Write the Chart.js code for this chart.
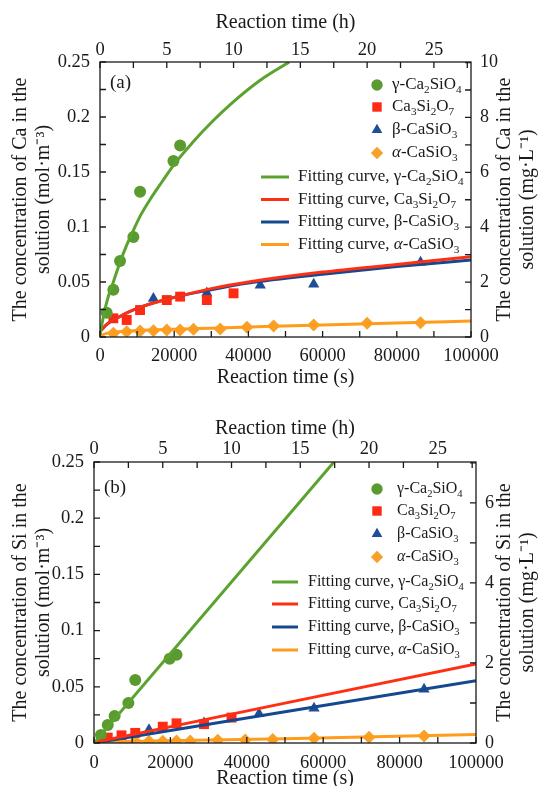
<!DOCTYPE html>
<html><head><meta charset="utf-8">
<script src="https://cdn.jsdelivr.net/npm/chart.js@4/dist/chart.umd.min.js"></script>
<style>
html,body{margin:0;padding:0;background:#fff;}
canvas{position:absolute;left:0;}
#ca{top:0;}
#cb{top:393px;}
</style></head><body>
<canvas id="ca" width="541" height="393"></canvas>
<canvas id="cb" width="541" height="393"></canvas>
<script>
// ---------------- DATA ----------------
const seriesNames = ['γ-Ca2SiO4', 'Ca3Si2O7', 'β-CaSiO3', 'α-CaSiO3'];
const fitPrefix = 'Fitting curve, ';

// sampling times (s)
const tGamma = [1800, 3600, 5400, 9000, 10800, 19800, 21600];
const tC3S2  = [3600, 7200, 10800, 18000, 21600, 28800, 36000];
const tBeta  = [14400, 28800, 43200, 57600, 86400];
const tAlpha = [3600, 7200, 10800, 14400, 18000, 21600, 25200, 32400, 39600, 46800, 57600, 72000, 86400];

// (a) Ca concentration, mol·m-3
const caGamma = [0.022, 0.043, 0.069, 0.091, 0.132, 0.160, 0.174];
const caC3S2  = [0.017, 0.0155, 0.0245, 0.0336, 0.0367, 0.0336, 0.0397];
const caBeta  = [0.035, 0.040, 0.047, 0.048, 0.068];
const caAlpha = [0.0033, 0.0048, 0.0055, 0.0057, 0.0064, 0.0064, 0.0070, 0.0073, 0.0088, 0.0100, 0.0109, 0.0124, 0.0130];

// (a) fitting curves
const tFitCaGamma = [0, 1000, 2000, 3600, 5400, 7000, 9000, 11000, 13500, 16500, 20000, 25000, 30000, 36000, 43000, 51000];
const caFitGamma  = [0.002, 0.020, 0.034, 0.050, 0.068, 0.082, 0.097, 0.111, 0.125, 0.140, 0.157, 0.177, 0.195, 0.214, 0.233, 0.25];
const tFitCa      = [0, 2000, 5000, 10000, 20000, 30000, 40000, 60000, 80000, 100000];
const caFitC3S2   = [0.005, 0.012, 0.018, 0.026, 0.036, 0.044, 0.050, 0.059, 0.066, 0.073];
const caFitBeta   = [0.005, 0.012, 0.018, 0.026, 0.036, 0.043, 0.049, 0.057, 0.064, 0.070];
const caFitAlpha  = [0.001, 0.0035, 0.0048, 0.0058, 0.0070, 0.0080, 0.0090, 0.0110, 0.0128, 0.0145];

// (b) Si concentration, mol·m-3
const siGamma = [0.0071, 0.016, 0.024, 0.0356, 0.056, 0.0750, 0.0785];
const siC3S2  = [0.0048, 0.0068, 0.0090, 0.0145, 0.0175, 0.0168, 0.0226];
const siBeta  = [0.0118, 0.0178, 0.0260, 0.0310, 0.0478];
const siAlpha = [0.0012, 0.0012, 0.0013, 0.0016, 0.0016, 0.0017, 0.0018, 0.0025, 0.0027, 0.0032, 0.0042, 0.0051, 0.0062];

// (b) fitting lines
const tFitSiGamma = [0, 62800];
const siFitGamma  = [0, 0.25];
const tFitSi      = [0, 50000, 100000];
const siFitC3S2   = [0.0005, 0.0355, 0.0703];
const siFitBeta   = [0.0, 0.0278, 0.0555];
const siFitAlpha  = [0.0010, 0.0038, 0.0075];

// axes
const tMaxS = 100000;
const secLabels  = [0, 20000, 40000, 60000, 80000, 100000];
const hourLabels = [0, 5, 10, 15, 20, 25];
const molLabels  = [0, 0.05, 0.1, 0.15, 0.2, 0.25];
const mgLabelsCa = [0, 2, 4, 6, 8, 10];
const mgLabelsSi = [0, 2, 4, 6];
const molarMassCa = 40.08, molarMassSi = 28.0855;

// ---------------- STYLE ----------------
const FONT = "'Liberation Serif','Times New Roman',serif";
const INK = '#1a1a1a';
const colors = ['#5ba22e', '#ff2f14', '#14498f', '#ff9c1c'];
const markerColors = ['#5a9b30', '#ff2a14', '#1f4e96', '#f7a12a'];
const styles = ['circle', 'rect', 'triangle', 'rectRot'];
const radii = [6, 7, 6.5, 6.5];

const pts = (xs, ys) => xs.map((x, i) => ({x, y: ys[i]}));
const has = (arr, v) => arr.some(a => Math.abs(a - v) < 1e-9);

function drawRich(ctx, s, x, y, size) {
  const parts = [];
  for (const ch of s) {
    const sub = /\d/.test(ch), it = ch === 'α';
    const last = parts[parts.length - 1];
    if (last && last.sub === sub && last.it === it) last.t += ch; else parts.push({t: ch, sub, it});
  }
  ctx.textBaseline = 'middle'; ctx.textAlign = 'left'; ctx.fillStyle = INK;
  let cx = x;
  for (const p of parts) {
    const fs = p.sub ? size * 0.66 : size;
    ctx.font = (p.it ? 'italic ' : '') + fs + 'px ' + FONT;
    ctx.fillText(p.t, cx, y + (p.sub ? size * 0.3 : 0));
    cx += ctx.measureText(p.t).width;
  }
}
function drawMarker(ctx, style, x, y, r, color) {
  ctx.fillStyle = color; ctx.beginPath();
  if (style === 'circle') ctx.arc(x, y, r, 0, Math.PI * 2);
  else if (style === 'rect') { const h = r * Math.SQRT1_2; ctx.rect(x - h, y - h, 2 * h, 2 * h); }
  else if (style === 'triangle') { ctx.moveTo(x, y - r); ctx.lineTo(x + r * 0.866, y + r * 0.5); ctx.lineTo(x - r * 0.866, y + r * 0.5); ctx.closePath(); }
  else { ctx.moveTo(x, y - r); ctx.lineTo(x + r, y); ctx.lineTo(x, y + r); ctx.lineTo(x - r, y); ctx.closePath(); }
  ctx.fill();
}

const framePlugin = {
  id: 'frame',
  afterDraw(chart) {
    const {ctx, chartArea: a, scales} = chart;
    const o = chart.options.plugins.frame;
    ctx.save();
    ctx.strokeStyle = INK; ctx.lineWidth = 1.3;
    ctx.strokeRect(a.left, a.top, a.right - a.left, a.bottom - a.top);
    const L = 6;
    ctx.beginPath();
    scales.x.ticks.forEach(t => { const p = scales.x.getPixelForValue(t.value); ctx.moveTo(p, a.bottom); ctx.lineTo(p, a.bottom - L); });
    scales.xh.ticks.forEach(t => { const p = scales.xh.getPixelForValue(t.value); ctx.moveTo(p, a.top); ctx.lineTo(p, a.top + L); });
    scales.y.ticks.forEach(t => { const p = scales.y.getPixelForValue(t.value); ctx.moveTo(a.left, p); ctx.lineTo(a.left + L, p); });
    scales.y2.ticks.forEach(t => { const p = scales.y2.getPixelForValue(t.value); ctx.moveTo(a.right, p); ctx.lineTo(a.right - L, p); });
    ctx.stroke();
    // right axis title (reads bottom to top)
    const cy = (a.top + a.bottom) / 2;
    ctx.fillStyle = INK; ctx.font = '20px ' + FONT; ctx.textAlign = 'center'; ctx.textBaseline = 'middle';
    o.rightTitle.forEach((line, i) => {
      ctx.save(); ctx.translate(o.rightTitleX[i], cy); ctx.rotate(-Math.PI / 2); ctx.fillText(line, 0, 0); ctx.restore();
    });
    // panel tag
    ctx.font = '19px ' + FONT; ctx.textAlign = 'left';
    ctx.fillText(o.tag, a.left + 10, o.tagY);
    // legend
    const lg = o.legend;
    for (let i = 0; i < 4; i++) {
      drawMarker(ctx, styles[i], lg.markerX, lg.rows[i], radii[i] * 0.95, markerColors[i]);
      drawRich(ctx, seriesNames[i], lg.textX, lg.rows[i], lg.size);
    }
    for (let i = 0; i < 4; i++) {
      const y = lg.rows[i + 4];
      ctx.strokeStyle = colors[i]; ctx.lineWidth = 3; ctx.beginPath();
      ctx.moveTo(lg.lineX[0], y); ctx.lineTo(lg.lineX[1], y); ctx.stroke();
      drawRich(ctx, fitPrefix + seriesNames[i], lg.fitTextX, y, lg.size);
    }
    ctx.restore();
  }
};

function makeChart(id, P) {
  const fitSets = P.fits.map((f, i) => ({
    type: 'line', label: fitPrefix + seriesNames[i], data: pts(f[0], f[1]),
    borderColor: colors[i], borderWidth: 3, pointRadius: 0, fill: false,
    tension: P.tension, cubicInterpolationMode: P.tension ? 'monotone' : 'default', order: 1
  }));
  const ptSets = P.points.map((p, i) => ({
    type: 'scatter', label: seriesNames[i], data: pts(p[0], p[1]),
    backgroundColor: markerColors[i], borderColor: markerColors[i], borderWidth: 0,
    pointStyle: styles[i], pointRadius: radii[i], showLine: false, order: 2
  }));
  const tickFont = {family: FONT, size: 18.5, lineHeight: 1.2};
  const titleFont = {family: FONT, size: 20, lineHeight: 1.2};
  return new Chart(document.getElementById(id), {
    type: 'scatter',
    data: {datasets: [...fitSets, ...ptSets]},
    options: {
      responsive: false, animation: false, devicePixelRatio: 1,
      layout: {padding: 0},
      plugins: {legend: {display: false}, tooltip: {enabled: false},
        frame: {rightTitle: P.rightTitle, rightTitleX: P.rightTitleX, tag: P.tag, tagY: P.tagY, legend: P.legend}},
      scales: {
        x: {type: 'linear', position: 'bottom', min: 0, max: tMaxS,
          grid: {display: false, drawTicks: false}, border: {display: false},
          ticks: {stepSize: 10000, autoSkip: false, maxRotation: 0, includeBounds: false, font: tickFont, color: INK, padding: P.bottomTickPad,
            callback: v => has(secLabels, v) ? String(v) : ''},
          title: {display: true, text: 'Reaction time (s)', font: titleFont, color: INK, padding: {top: 0, bottom: P.bottomTitlePad}},
          afterFit: s => { s.height = P.bottomH; }},
        xh: {type: 'linear', position: 'top', min: 0, max: tMaxS / 3600,
          grid: {display: false, drawTicks: false}, border: {display: false},
          ticks: {stepSize: 2.5, autoSkip: false, maxRotation: 0, includeBounds: false, font: tickFont, color: INK, padding: P.topTickPad,
            callback: v => has(hourLabels, v) ? String(v) : ''},
          title: {display: true, text: 'Reaction time (h)', font: titleFont, color: INK, padding: {top: P.topTitlePad, bottom: 0}},
          afterFit: s => { s.height = P.topH; }},
        y: {type: 'linear', position: 'left', min: 0, max: 0.25,
          grid: {display: false, drawTicks: false}, border: {display: false},
          ticks: {stepSize: 0.025, autoSkip: false, includeBounds: false, font: tickFont, color: INK, padding: 10,
            callback: v => has(molLabels, v) ? String(+v.toFixed(2)) : ''},
          title: {display: true, text: P.leftTitle, font: {family: FONT, size: 20, lineHeight: 1.13}, color: INK, padding: {top: 9.4, bottom: 0}},
          afterFit: s => { s.width = P.leftW; }},
        y2: {type: 'linear', position: 'right', min: 0, max: 0.25 * P.molarMass,
          grid: {display: false, drawTicks: false}, border: {display: false},
          ticks: {stepSize: 1, autoSkip: false, includeBounds: false, font: {family: FONT, size: 18, lineHeight: 1.2}, color: INK, padding: 9,
            callback: v => has(P.rightLabels, v) ? String(v) : ''},
          afterFit: s => { s.width = P.rightW; }}
      }
    },
    plugins: [framePlugin]
  });
}

makeChart('ca', {
  tag: '(a)', tagY: 83, tension: 0.4, molarMass: molarMassCa, rightLabels: mgLabelsCa,
  fits: [[tFitCaGamma, caFitGamma], [tFitCa, caFitC3S2], [tFitCa, caFitBeta], [tFitCa, caFitAlpha]],
  points: [[tGamma, caGamma], [tC3S2, caC3S2], [tBeta, caBeta], [tAlpha, caAlpha]],
  leftTitle: ['The concentration of Ca in the', 'solution (mol·m⁻³)'],
  rightTitle: ['The concentration of Ca in the', 'solution (mg·L⁻¹)'], rightTitleX: [505, 527.5],
  leftW: 100, rightW: 70, topH: 62, bottomH: 56, topTitlePad: 10.4, topTickPad: 1, bottomTitlePad: 3, bottomTickPad: 8,
  legend: {size: 17, markerX: 377, textX: 392, lineX: [261, 289], fitTextX: 298,
    rows: [85, 107, 130, 153, 177, 199.5, 222, 244.5]}
});
makeChart('cb', {
  tag: '(b)', tagY: 95, tension: 0, molarMass: molarMassSi, rightLabels: mgLabelsSi,
  fits: [[tFitSiGamma, siFitGamma], [tFitSi, siFitC3S2], [tFitSi, siFitBeta], [tFitSi, siFitAlpha]],
  points: [[tGamma, siGamma], [tC3S2, siC3S2], [tBeta, siBeta], [tAlpha, siAlpha]],
  leftTitle: ['The concentration of Si in the', 'solution (mol·m⁻³)'],
  rightTitle: ['The concentration of Si in the', 'solution (mg·L⁻¹)'], rightTitleX: [505, 528],
  leftW: 94, rightW: 65, topH: 69, bottomH: 43, topTitlePad: 23.3, topTickPad: 2, bottomTitlePad: -4.5, bottomTickPad: 8.7,
  legend: {size: 16, markerX: 377, textX: 397, lineX: [272, 298], fitTextX: 308,
    rows: [96, 118, 141, 164, 189, 211, 234, 257]}
});
</script>
</body></html>
